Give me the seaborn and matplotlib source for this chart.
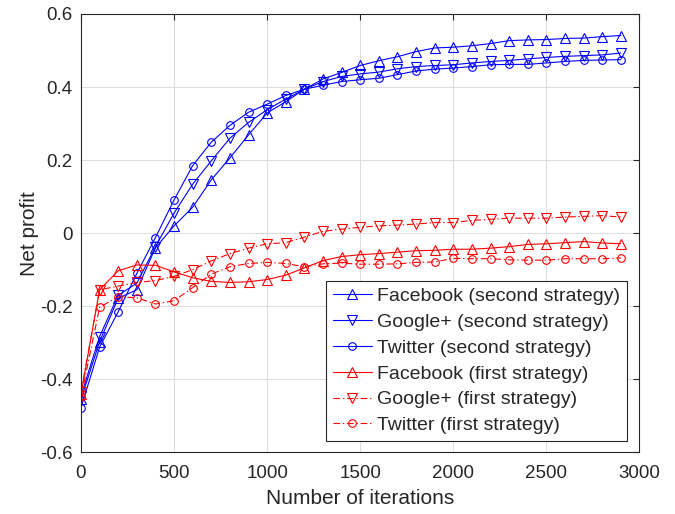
import numpy as np
import pandas as pd
import matplotlib
matplotlib.use("Agg")
import matplotlib.pyplot as plt
import seaborn as sns
from matplotlib.ticker import FuncFormatter

iterations = list(range(0, 3000, 100))

fb_second = [-0.455, -0.297, -0.178, -0.155, -0.040, 0.020, 0.071, 0.146, 0.206, 0.269,
             0.329, 0.360, 0.394, 0.422, 0.440, 0.459, 0.472, 0.483, 0.497, 0.507,
             0.509, 0.513, 0.519, 0.527, 0.529, 0.530, 0.533, 0.534, 0.538, 0.541]
gp_second = [-0.445, -0.283, -0.170, -0.137, -0.037, 0.055, 0.134, 0.198, 0.260, 0.303,
             0.338, 0.367, 0.394, 0.415, 0.429, 0.436, 0.441, 0.450, 0.456, 0.459,
             0.461, 0.466, 0.470, 0.473, 0.477, 0.481, 0.484, 0.486, 0.488, 0.493]
tw_second = [-0.478, -0.312, -0.215, -0.110, -0.012, 0.091, 0.185, 0.249, 0.295, 0.331,
             0.353, 0.377, 0.394, 0.405, 0.415, 0.420, 0.424, 0.434, 0.444, 0.449,
             0.452, 0.456, 0.461, 0.462, 0.462, 0.466, 0.470, 0.473, 0.474, 0.475]
fb_first = [-0.440, -0.155, -0.103, -0.087, -0.088, -0.106, -0.122, -0.132, -0.135, -0.133,
            -0.127, -0.115, -0.095, -0.075, -0.064, -0.059, -0.056, -0.052, -0.048, -0.047,
            -0.044, -0.044, -0.041, -0.037, -0.031, -0.029, -0.026, -0.023, -0.027, -0.029]
gp_first = [-0.435, -0.155, -0.145, -0.135, -0.130, -0.118, -0.100, -0.076, -0.056, -0.041,
            -0.029, -0.026, -0.011, 0.005, 0.011, 0.016, 0.020, 0.022, 0.025, 0.029,
            0.029, 0.035, 0.038, 0.041, 0.041, 0.041, 0.044, 0.046, 0.048, 0.044]
tw_first = [-0.448, -0.203, -0.174, -0.177, -0.194, -0.185, -0.149, -0.112, -0.092, -0.083,
            -0.080, -0.083, -0.092, -0.084, -0.082, -0.085, -0.085, -0.084, -0.080, -0.079,
            -0.069, -0.070, -0.070, -0.073, -0.074, -0.074, -0.070, -0.070, -0.070, -0.068]

labels = ["Facebook (second strategy)", "Google+ (second strategy)", "Twitter (second strategy)",
          "Facebook (first strategy)", "Google+ (first strategy)", "Twitter (first strategy)"]
series = [fb_second, gp_second, tw_second, fb_first, gp_first, tw_first]
colors = ["#0000ff", "#0000ff", "#0000ff", "#ff0000", "#ff0000", "#ff0000"]
markers = ["^", "v", "o", "^", "v", "o"]
dashdot = (0, (6, 2.5, 1.2, 2.5))
styles = ["-", "-", "-", "-", dashdot, dashdot]

xticks = [0, 500, 1000, 1500, 2000, 2500, 3000]
yticks = [-0.6, -0.4, -0.2, 0.0, 0.2, 0.4, 0.6]

sns.set_style("white")
plt.rcParams["font.family"] = ["Liberation Sans", "DejaVu Sans"]
plt.rcParams["axes.unicode_minus"] = False

fig = plt.figure(figsize=(6.75, 5.14), dpi=100)
ax = fig.add_axes([0.12, 0.12, 0.8274, 0.8528])

for lab, vals, c, m, ls in zip(labels, series, colors, markers, styles):
    df = pd.DataFrame({"x": iterations, "y": vals})
    ms = 5.5 if m == "o" else 6.5
    sns.lineplot(data=df, x="x", y="y", ax=ax, color=c, marker=m, markersize=ms,
                 markerfacecolor="none", markeredgecolor=c, markeredgewidth=0.8,
                 linewidth=0.8, linestyle=ls, label=lab)

ax.set_xlim(0, 3000)
ax.set_ylim(-0.6, 0.6)
ax.set_xticks(xticks)
ax.set_yticks(yticks)
ax.yaxis.set_major_formatter(FuncFormatter(lambda v, p: f"{round(v, 6):g}"))
ax.grid(True, color="#dcdcdc", linewidth=0.7)
ax.set_axisbelow(True)
for s in ax.spines.values():
    s.set_color("#262626")
    s.set_linewidth(0.8)
ax.tick_params(direction="in", length=4, width=0.8, top=True, right=True,
               labelsize=13.5, colors="#262626")
ax.tick_params(axis="x", pad=9)
ax.tick_params(axis="y", pad=6)
ax.set_xlabel("Number of iterations", fontsize=15, color="#262626", labelpad=5)
ax.set_ylabel("Net profit", fontsize=15, color="#262626", labelpad=1)

leg = ax.legend(loc="lower right", bbox_to_anchor=(0.978, 0.026), fontsize=14,
                frameon=True, fancybox=False, framealpha=1, edgecolor="#262626",
                handlelength=2.0, handletextpad=0.3, labelspacing=0.42,
                borderpad=0.35, borderaxespad=0)
leg.get_frame().set_linewidth(0.8)

fig.savefig("out.png", dpi=100)
